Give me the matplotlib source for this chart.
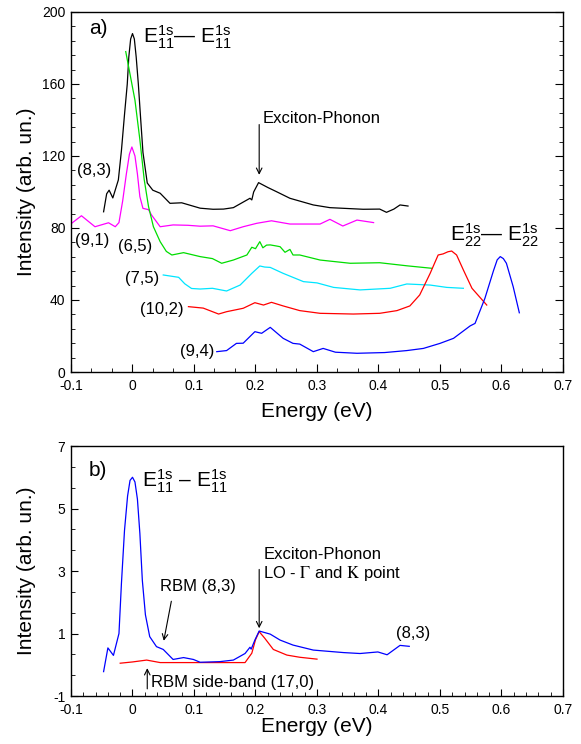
import numpy as np
import matplotlib
matplotlib.use('Agg')
import matplotlib.pyplot as plt
from matplotlib.ticker import MultipleLocator, FuncFormatter

plt.rcParams['font.family'] = ['Liberation Sans', 'DejaVu Sans']
plt.rcParams['mathtext.fontset'] = 'custom'
plt.rcParams['mathtext.rm'] = 'Liberation Sans'
plt.rcParams['mathtext.it'] = 'Liberation Sans:italic'
plt.rcParams['mathtext.bf'] = 'Liberation Sans:bold'

# ---- panel a data (offset spectra) ----
x_83 = [-0.047, -0.042, -0.038, -0.032, -0.023, -0.018, -0.013, -0.0085, -0.006, -0.003, 0.0, 0.003,
        0.006, 0.0095, 0.013, 0.017, 0.024, 0.033, 0.045, 0.061, 0.08, 0.11, 0.131, 0.148, 0.164,
        0.178, 0.191, 0.194, 0.197, 0.205, 0.22, 0.234, 0.256, 0.294, 0.321, 0.375, 0.402, 0.413,
        0.425, 0.435, 0.448]
y_83 = [89, 99, 101, 96.7, 106.7, 123, 143, 160, 175, 185, 188, 185,
        175, 160, 142, 122, 105, 101, 99.3, 93.7, 94, 91, 90.4, 90.5, 91.3,
        94, 96.5, 95.6, 100, 105.2, 102.5, 100.2, 96.5, 92.8, 91.3, 90.4, 90.5, 88.7,
        90.5, 92.8, 92.2]

x_91 = [-0.099, -0.083, -0.061, -0.039, -0.028, -0.022, -0.016, -0.01, -0.005, -0.001, 0.004,
        0.008, 0.012, 0.017, 0.026, 0.031, 0.045, 0.066, 0.09, 0.11, 0.131, 0.159, 0.18, 0.202,
        0.226, 0.256, 0.305, 0.321, 0.342, 0.365, 0.392]
y_91 = [82.6, 86.8, 80.7, 82.9, 80.7, 83, 95, 110, 121, 125, 120,
        110, 97.4, 90.9, 90.2, 87.2, 80.7, 81.7, 81.5, 81, 81.2, 78.5, 80.7, 82.6,
        84, 82.2, 82.2, 84.8, 81.1, 84.4, 83]

x_65 = [-0.011, 0.004, 0.012, 0.019, 0.026, 0.034, 0.045, 0.055, 0.064, 0.083, 0.11, 0.13, 0.145,
        0.164, 0.186, 0.194, 0.2, 0.207, 0.212, 0.218, 0.224, 0.234, 0.24, 0.248, 0.256, 0.261,
        0.272, 0.305, 0.354, 0.402, 0.446, 0.487]
y_65 = [178, 151, 129, 107, 92, 80.7, 72.4, 67, 65, 66.3, 64.1, 63, 60.4,
        62.2, 65, 69.3, 68.5, 72.4, 69, 70.5, 70.6, 70, 69.6, 66.5, 68.1, 65,
        65, 62.2, 60.4, 60.7, 59, 57.6]

x_75 = [0.05, 0.075, 0.085, 0.096, 0.11, 0.13, 0.153, 0.175, 0.194, 0.207, 0.215, 0.224, 0.245,
        0.278, 0.3, 0.327, 0.37, 0.419, 0.446, 0.484, 0.511, 0.538]
y_75 = [53.9, 52.6, 49, 46.4, 46.1, 46.5, 45, 48.3, 54.8, 58.9, 58.3, 58.1, 54.8,
        50.2, 49.5, 47, 45.6, 46.5, 48.9, 48.3, 47, 46.5]

x_102 = [0.091, 0.115, 0.14, 0.153, 0.18, 0.199, 0.213, 0.226, 0.245, 0.272, 0.305, 0.359, 0.402,
         0.43, 0.451, 0.467, 0.484, 0.497, 0.505, 0.513, 0.519, 0.527, 0.538, 0.552, 0.576]
y_102 = [36.3, 35.5, 32.2, 33.5, 35.4, 38.5, 37.2, 38.7, 36.7, 34.1, 32.6, 32.2, 32.6,
         34.1, 36.7, 42.8, 54.8, 65, 65.6, 66.8, 67.2, 65, 56.7, 46.5, 37.2]

x_94 = [0.137, 0.153, 0.169, 0.18, 0.199, 0.21, 0.224, 0.245, 0.261, 0.272, 0.294, 0.31, 0.33,
        0.365, 0.41, 0.446, 0.473, 0.5, 0.522, 0.549, 0.557, 0.573, 0.587, 0.593, 0.598, 0.603,
        0.608, 0.619, 0.629]
y_94 = [11.3, 11.9, 15.9, 16, 22.4, 21.5, 24.8, 18.7, 15.9, 15.5, 11.3, 13.1, 11,
        10.4, 10.8, 11.9, 13.1, 15.9, 18.7, 25.6, 27, 40.9, 56.3, 62.3, 64.1, 63,
        60.4, 47.4, 32.9]

# ---- panel b data ----
xb_83 = [-0.047, -0.04, -0.031, -0.022, -0.018, -0.013, -0.008, -0.004, 0, 0.004, 0.008, 0.012,
         0.016, 0.021, 0.028, 0.039, 0.05, 0.066, 0.083, 0.099, 0.11, 0.142, 0.164, 0.183, 0.191,
         0.193, 0.199, 0.206, 0.224, 0.24, 0.261, 0.294, 0.343, 0.37, 0.399, 0.414, 0.435, 0.45]
yb_83 = [-0.22, 0.54, 0.3, 1.0, 2.6, 4.3, 5.4, 5.9, 6.0, 5.85, 5.3, 4.2,
         2.7, 1.6, 0.9, 0.58, 0.49, 0.17, 0.23, 0.17, 0.08, 0.1, 0.15, 0.36, 0.56,
         0.5, 0.79, 1.08, 0.98, 0.79, 0.63, 0.47, 0.39, 0.36, 0.41, 0.32, 0.62, 0.59]

xb_170 = [-0.02, 0.0, 0.023, 0.045, 0.1, 0.15, 0.183, 0.194, 0.2, 0.206, 0.215, 0.229, 0.251, 0.272, 0.3]
yb_170 = [0.05, 0.09, 0.15, 0.07, 0.07, 0.07, 0.07, 0.37, 0.8, 1.06, 0.85, 0.49, 0.31, 0.24, 0.18]

fig = plt.figure(figsize=(5.81, 7.44), dpi=100)
ax1 = fig.add_axes([0.1222, 0.5, 0.8468, 0.4839])
ax2 = fig.add_axes([0.1222, 0.0645, 0.8468, 0.336])

lw = 0.9
ax1.plot(x_83, y_83, color='black', lw=lw)
ax1.plot(x_91, y_91, color='#ff00ff', lw=lw)
ax1.plot(x_65, y_65, color='#00dd00', lw=lw)
ax1.plot(x_75, y_75, color='#00e5ff', lw=lw)
ax1.plot(x_102, y_102, color='red', lw=lw)
ax1.plot(x_94, y_94, color='blue', lw=lw)

ax2.plot(xb_170, yb_170, color='red', lw=lw)
ax2.plot(xb_83, yb_83, color='blue', lw=lw)

fmt = FuncFormatter(lambda v, p: '%g' % round(v, 3))

ax1.set_xlim(-0.1, 0.7)
ax1.set_ylim(0, 200)
ax1.xaxis.set_major_locator(MultipleLocator(0.1))
ax1.xaxis.set_minor_locator(MultipleLocator(0.1 / 3))
ax1.yaxis.set_major_locator(MultipleLocator(40))
ax1.yaxis.set_minor_locator(MultipleLocator(8))
ax1.tick_params(which='both', direction='in', top=False, right=True, labelsize=10)
ax1.tick_params(which='major', length=6)
ax1.tick_params(which='minor', length=3)

ax2.set_xlim(-0.1, 0.7)
ax2.set_ylim(-1, 7)
ax2.xaxis.set_major_locator(MultipleLocator(0.1))
ax2.xaxis.set_minor_locator(MultipleLocator(0.02))
ax2.set_yticks([-1, 1, 3, 5, 7])
ax2.set_yticks(np.arange(-1, 7.01, 2 / 3), minor=True)
ax2.tick_params(which='both', direction='in', top=False, right=False, labelsize=10)
ax2.tick_params(which='major', length=5)
ax2.tick_params(which='minor', length=3)

for ax in (ax1, ax2):
    ax.tick_params(axis='x', pad=5)
    ax.tick_params(axis='y', pad=4)
    ax.xaxis.set_major_formatter(fmt)
    ax.yaxis.set_major_formatter(fmt)
    for s in ax.spines.values():
        s.set_linewidth(1.0)
    ax.set_xlabel('Energy (eV)', fontsize=15)
    ax.set_ylabel('Intensity (arb. un.)', fontsize=15)
ax1.xaxis.set_label_coords(0.5, -0.082)
ax1.yaxis.set_label_coords(-0.072, 0.5)
ax2.xaxis.set_label_coords(0.5, -0.085)
ax2.yaxis.set_label_coords(-0.072, 0.5)

# panel a annotations
ax1.text(-0.07, 191, 'a)', fontsize=15, va='center')
ax1.text(0.017, 186, r'$\mathrm{E}_{11}^{\mathrm{1s}}$— $\mathrm{E}_{11}^{\mathrm{1s}}$', fontsize=15, va='center')
ax1.text(0.516, 76, r'$\mathrm{E}_{22}^{\mathrm{1s}}$— $\mathrm{E}_{22}^{\mathrm{1s}}$', fontsize=15, va='center')
ax1.text(0.212, 141, 'Exciton-Phonon', fontsize=12, va='center')
ax1.annotate('', xy=(0.206, 108), xytext=(0.206, 139),
             arrowprops=dict(arrowstyle='->', lw=0.8, color='black'))
ax1.text(-0.09, 112, '(8,3)', fontsize=12, va='center')
ax1.text(-0.094, 73.3, '(9,1)', fontsize=12, va='center')
ax1.text(-0.024, 69.6, '(6,5)', fontsize=12, va='center')
ax1.text(-0.012, 52, '(7,5)', fontsize=12, va='center')
ax1.text(0.012, 34.8, '(10,2)', fontsize=12, va='center')
ax1.text(0.077, 11.3, '(9,4)', fontsize=12, va='center')

# panel b annotations
ax2.text(-0.072, 6.23, 'b)', fontsize=15, va='center')
ax2.text(0.015, 5.86, r'$\mathrm{E}_{11}^{\mathrm{1s}}$ – $\mathrm{E}_{11}^{\mathrm{1s}}$', fontsize=15, va='center')
ax2.text(0.213, 3.2, 'Exciton-Phonon\nLO - $\\Gamma$ and $\\mathrm{K}$ point', fontsize=12,
         va='center', linespacing=1.15, math_fontfamily='stix')
ax2.annotate('', xy=(0.206, 1.08), xytext=(0.206, 3.14),
             arrowprops=dict(arrowstyle='->', lw=0.8, color='black'))
ax2.text(0.045, 2.5, 'RBM (8,3)', fontsize=12, va='center')
ax2.annotate('', xy=(0.05, 0.68), xytext=(0.064, 2.12),
             arrowprops=dict(arrowstyle='->', lw=0.8, color='black'))
ax2.text(0.03, -0.57, 'RBM side-band (17,0)', fontsize=12, va='center')
ax2.annotate('', xy=(0.024, -0.02), xytext=(0.024, -0.86),
             arrowprops=dict(arrowstyle='->', lw=0.8, color='black'))
ax2.text(0.429, 1.0, '(8,3)', fontsize=12, va='center')

fig.savefig('out.png', dpi=100)
